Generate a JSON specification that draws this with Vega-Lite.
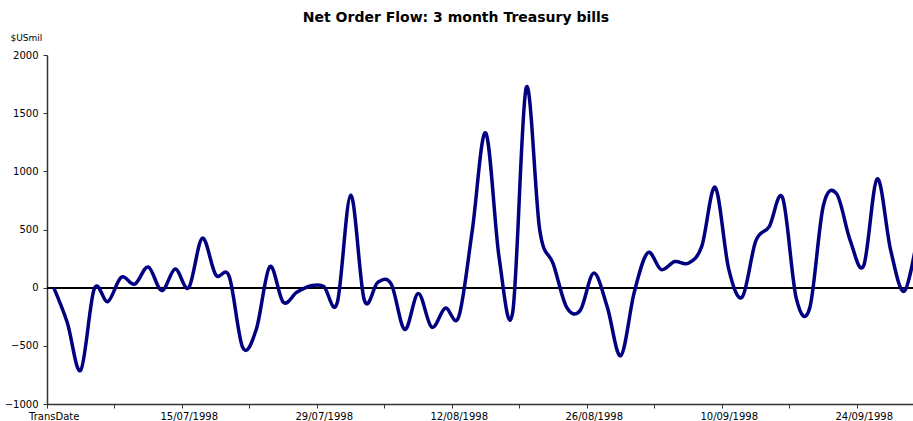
{
  "$schema": "https://vega.github.io/schema/vega-lite/v6.json",
  "autosize": "none",
  "padding": {"left": 47, "top": 55, "right": 0, "bottom": 17},
  "width": 866,
  "height": 349,
  "background": "white",
  "title": {
    "text": "Net Order Flow: 3 month Treasury bills",
    "font": "DejaVu Sans",
    "fontSize": 14,
    "fontWeight": "bold",
    "color": "black",
    "anchor": "middle",
    "dx": -24,
    "offset": 8
  },
  "config": {
    "view": {"stroke": null},
    "axis": {"labelFont": "DejaVu Sans", "labelFontSize": 10, "labelColor": "black", "titleFont": "DejaVu Sans"}
  },
  "data": {
    "values": [
      {"i": 0, "date": "TransDate", "v": 0},
      {"i": 1, "date": "02/07/1998", "v": -300},
      {"i": 2, "date": "03/07/1998", "v": -710},
      {"i": 3, "date": "06/07/1998", "v": -10},
      {"i": 4, "date": "07/07/1998", "v": -120},
      {"i": 5, "date": "08/07/1998", "v": 90},
      {"i": 6, "date": "09/07/1998", "v": 30},
      {"i": 7, "date": "10/07/1998", "v": 178},
      {"i": 8, "date": "13/07/1998", "v": -25},
      {"i": 9, "date": "14/07/1998", "v": 160},
      {"i": 10, "date": "15/07/1998", "v": 0},
      {"i": 11, "date": "16/07/1998", "v": 425},
      {"i": 12, "date": "17/07/1998", "v": 110},
      {"i": 13, "date": "20/07/1998", "v": 95},
      {"i": 14, "date": "21/07/1998", "v": -515},
      {"i": 15, "date": "22/07/1998", "v": -360},
      {"i": 16, "date": "23/07/1998", "v": 180},
      {"i": 17, "date": "24/07/1998", "v": -125},
      {"i": 18, "date": "27/07/1998", "v": -40},
      {"i": 19, "date": "28/07/1998", "v": 15},
      {"i": 20, "date": "29/07/1998", "v": 10},
      {"i": 21, "date": "30/07/1998", "v": -130},
      {"i": 22, "date": "31/07/1998", "v": 795},
      {"i": 23, "date": "03/08/1998", "v": -105},
      {"i": 24, "date": "04/08/1998", "v": 45},
      {"i": 25, "date": "05/08/1998", "v": 30},
      {"i": 26, "date": "06/08/1998", "v": -360},
      {"i": 27, "date": "07/08/1998", "v": -50},
      {"i": 28, "date": "10/08/1998", "v": -340},
      {"i": 29, "date": "11/08/1998", "v": -175},
      {"i": 30, "date": "12/08/1998", "v": -250},
      {"i": 31, "date": "13/08/1998", "v": 490},
      {"i": 32, "date": "14/08/1998", "v": 1330},
      {"i": 33, "date": "17/08/1998", "v": 250},
      {"i": 34, "date": "18/08/1998", "v": -210},
      {"i": 35, "date": "19/08/1998", "v": 1720},
      {"i": 36, "date": "20/08/1998", "v": 495},
      {"i": 37, "date": "21/08/1998", "v": 205},
      {"i": 38, "date": "24/08/1998", "v": -170},
      {"i": 39, "date": "25/08/1998", "v": -195},
      {"i": 40, "date": "26/08/1998", "v": 125},
      {"i": 41, "date": "27/08/1998", "v": -165},
      {"i": 42, "date": "28/08/1998", "v": -585},
      {"i": 43, "date": "31/08/1998", "v": -40},
      {"i": 44, "date": "01/09/1998", "v": 300},
      {"i": 45, "date": "02/09/1998", "v": 155},
      {"i": 46, "date": "03/09/1998", "v": 225},
      {"i": 47, "date": "04/09/1998", "v": 210},
      {"i": 48, "date": "08/09/1998", "v": 355},
      {"i": 49, "date": "09/09/1998", "v": 862},
      {"i": 50, "date": "10/09/1998", "v": 160},
      {"i": 51, "date": "11/09/1998", "v": -80},
      {"i": 52, "date": "14/09/1998", "v": 400},
      {"i": 53, "date": "15/09/1998", "v": 525},
      {"i": 54, "date": "16/09/1998", "v": 770},
      {"i": 55, "date": "17/09/1998", "v": -90},
      {"i": 56, "date": "18/09/1998", "v": -175},
      {"i": 57, "date": "21/09/1998", "v": 700},
      {"i": 58, "date": "22/09/1998", "v": 805},
      {"i": 59, "date": "23/09/1998", "v": 405},
      {"i": 60, "date": "24/09/1998", "v": 190},
      {"i": 61, "date": "25/09/1998", "v": 935},
      {"i": 62, "date": "28/09/1998", "v": 320},
      {"i": 63, "date": "29/09/1998", "v": -30},
      {"i": 64, "date": "30/09/1998", "v": 450}
    ]
  },
  "layer": [
    {
      "mark": {"type": "rule", "color": "black", "strokeWidth": 1},
      "encoding": {"y": {"datum": 0, "type": "quantitative"}}
    },
    {
      "mark": {"type": "line", "color": "#000080", "strokeWidth": 3.5, "interpolate": "cardinal", "clip": true},
      "encoding": {
        "x": {
          "field": "i",
          "type": "quantitative",
          "scale": {"domain": [-0.5, 63.65], "nice": false, "zero": false},
          "axis": {
            "title": null,
            "values": [-0.5, 4.5, 9.5, 14.5, 19.5, 24.5, 29.5, 34.5, 39.5, 44.5, 49.5, 54.5, 59.5],
            "labelExpr": "datum.value == -0.5 ? 'TransDate' : datum.value == 9.5 ? '15/07/1998' : datum.value == 19.5 ? '29/07/1998' : datum.value == 29.5 ? '12/08/1998' : datum.value == 39.5 ? '26/08/1998' : datum.value == 49.5 ? '10/09/1998' : datum.value == 59.5 ? '24/09/1998' : ''",
            "labelOffset": 6.75,
            "labelAlign": "center",
            "labelFlush": false,
            "labelOverlap": false,
            "labelBound": false,
            "labelPadding": 3,
            "tickSize": 4,
            "tickColor": "#333333",
            "domainColor": "#333333",
            "domainWidth": 1.5,
            "grid": false
          }
        },
        "y": {
          "field": "v",
          "type": "quantitative",
          "scale": {"domain": [-1000, 2000], "nice": false, "zero": false},
          "axis": {
            "title": "$USmil",
            "titleAngle": 0,
            "titleAlign": "left",
            "titleBaseline": "middle",
            "titleX": -37,
            "titleY": -18,
            "titleFontSize": 9,
            "titleFontWeight": "normal",
            "titleColor": "black",
            "values": [-1000, -500, 0, 500, 1000, 1500, 2000],
            "format": "d",
            "tickSize": 4,
            "labelPadding": 5,
            "tickColor": "#333333",
            "domainColor": "#333333",
            "domainWidth": 1.5,
            "grid": false
          }
        }
      }
    }
  ]
}
